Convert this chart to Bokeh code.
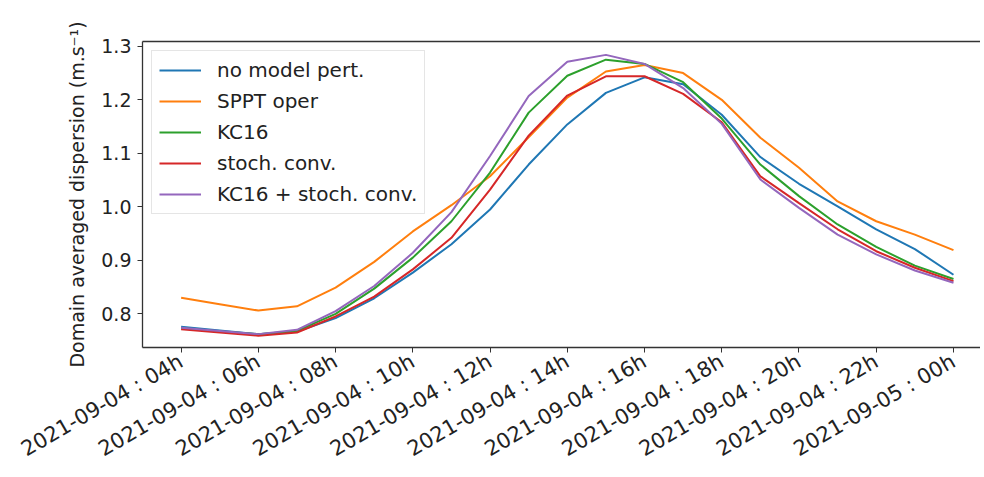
import math
from bokeh.plotting import figure
from bokeh.models import (Range1d, FixedTicker, PrintfTickFormatter, LinearAxis,
                          Legend, LegendItem)
from bokeh.embed import file_html
from bokeh.resources import INLINE

# ---- data -------------------------------------------------------------
hours = list(range(4, 25))  # 2021-09-04 04h ... 2021-09-05 00h

no_model_pert = [0.776, 0.769, 0.762, 0.767, 0.792, 0.829, 0.877, 0.930, 0.995, 1.079,
                 1.154, 1.213, 1.242, 1.229, 1.172, 1.093, 1.043, 1.001, 0.958, 0.921, 0.873]
sppt_oper = [0.830, 0.818, 0.806, 0.814, 0.849, 0.897, 0.954, 1.003, 1.057, 1.130,
             1.204, 1.253, 1.265, 1.250, 1.200, 1.129, 1.073, 1.010, 0.973, 0.948, 0.919]
kc16 = [0.773, 0.767, 0.762, 0.768, 0.800, 0.847, 0.905, 0.973, 1.064, 1.176,
        1.245, 1.275, 1.267, 1.233, 1.165, 1.079, 1.020, 0.967, 0.925, 0.890, 0.865]
stoch_conv = [0.771, 0.765, 0.759, 0.765, 0.795, 0.832, 0.883, 0.942, 1.032, 1.133,
              1.208, 1.244, 1.244, 1.211, 1.158, 1.057, 1.007, 0.958, 0.917, 0.886, 0.861]
kc16_stoch = [0.774, 0.768, 0.762, 0.770, 0.805, 0.852, 0.914, 0.990, 1.095, 1.207,
              1.271, 1.284, 1.267, 1.222, 1.155, 1.051, 0.998, 0.948, 0.911, 0.881, 0.858]

series_names = ["no model pert.", "SPPT oper", "KC16", "stoch. conv.", "KC16 + stoch. conv."]
series_colors = ["#1f77b4", "#ff7f0e", "#2ca02c", "#d62728", "#9467bd"]

x_tick_values = [4, 6, 8, 10, 12, 14, 16, 18, 20, 22, 24]
x_tick_labels = ["2021-09-04 : 04h", "2021-09-04 : 06h", "2021-09-04 : 08h",
                 "2021-09-04 : 10h", "2021-09-04 : 12h", "2021-09-04 : 14h",
                 "2021-09-04 : 16h", "2021-09-04 : 18h", "2021-09-04 : 20h",
                 "2021-09-04 : 22h", "2021-09-05 : 00h"]
y_tick_values = [0.8, 0.9, 1.0, 1.1, 1.2, 1.3]
y_label = "Domain averaged dispersion (m.s\u207b\u00b9)"

# ---- figure -----------------------------------------------------------
FONT = "DejaVu Sans"
TXT = "#222222"
AX = "#333333"

p = figure(width=980, height=474, output_backend="svg", toolbar_location=None,
           x_range=Range1d(3.0, 24.70), y_range=Range1d(0.737, 1.309),
           min_border_left=142, min_border_right=0, min_border_top=41,
           min_border_bottom=118, background_fill_color="white",
           border_fill_color="white")
p.outline_line_color = None
p.xgrid.visible = False
p.ygrid.visible = False

renderers = []
for vals, col in zip([no_model_pert, sppt_oper, kc16, stoch_conv, kc16_stoch], series_colors):
    r = p.line(hours, vals, line_color=col, line_width=2.0)
    renderers.append(r)

# x axis
xa = p.xaxis[0]
xa.ticker = FixedTicker(ticks=x_tick_values)
xa.major_label_overrides = {v: l for v, l in zip(x_tick_values, x_tick_labels)}
xa.major_label_orientation = math.radians(30)
xa.major_label_text_font = FONT
xa.major_label_text_font_size = "21px"
xa.major_label_text_color = TXT
xa.major_tick_in = 0
xa.major_tick_out = 5
xa.minor_tick_in = 0
xa.minor_tick_out = 0
xa.axis_line_color = AX
xa.axis_line_width = 1.3
xa.major_tick_line_color = AX
xa.major_label_standoff = 7

# y axis
ya = p.yaxis[0]
ya.ticker = FixedTicker(ticks=y_tick_values)
ya.formatter = PrintfTickFormatter(format="%.1f")
ya.major_label_text_font = FONT
ya.major_label_text_font_size = "19px"
ya.major_label_text_color = TXT
ya.major_tick_in = 0
ya.major_tick_out = 5
ya.minor_tick_in = 0
ya.minor_tick_out = 0
ya.axis_line_color = AX
ya.axis_line_width = 1.3
ya.major_tick_line_color = AX
ya.major_label_standoff = 6
ya.axis_label = y_label
ya.axis_label_text_font = FONT
ya.axis_label_text_font_size = "19px"
ya.axis_label_text_font_style = "normal"
ya.axis_label_text_color = TXT
ya.axis_label_standoff = 10

# top spine
top = LinearAxis(ticker=FixedTicker(ticks=[]), major_label_text_font_size="0px",
                 major_tick_in=0, major_tick_out=0, minor_tick_in=0, minor_tick_out=0,
                 axis_line_color=AX, axis_line_width=1.3)
p.add_layout(top, "above")

legend = Legend(items=[LegendItem(label=n, renderers=[r]) for n, r in zip(series_names, renderers)],
                location="top_left")
legend.label_text_font = FONT
legend.label_text_font_size = "20px"
legend.label_text_color = TXT
legend.glyph_width = 42
legend.glyph_height = 22
legend.label_height = 22
legend.label_standoff = 16
legend.spacing = 7
legend.padding = 7
legend.margin = 9
legend.border_line_color = "#cccccc"
legend.border_line_width = 1
legend.background_fill_color = "white"
legend.background_fill_alpha = 0.85
p.add_layout(legend)

open("out.html", "w").write(file_html(p, INLINE))
